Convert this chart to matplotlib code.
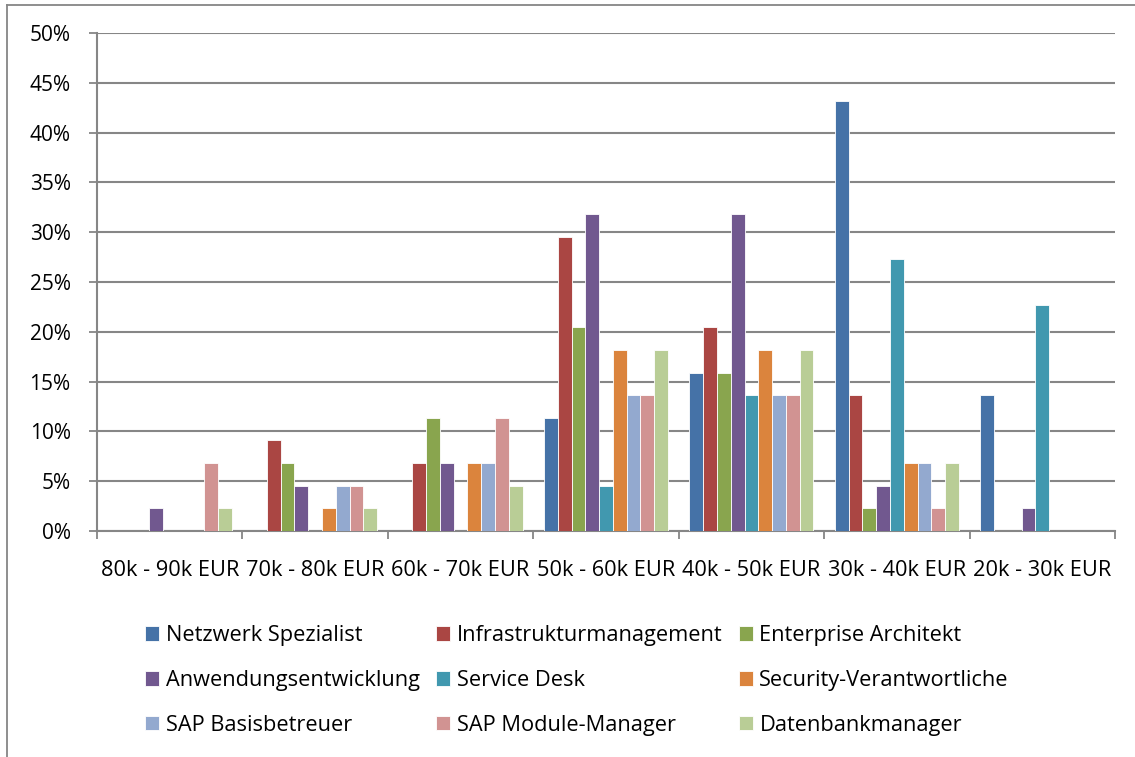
import numpy as np
import matplotlib.pyplot as plt
from matplotlib.lines import Line2D

plt.rcParams['font.family'] = ['Open Sans', 'DejaVu Sans']

categories = ['80k - 90k EUR', '70k - 80k EUR', '60k - 70k EUR', '50k - 60k EUR',
              '40k - 50k EUR', '30k - 40k EUR', '20k - 30k EUR']

# percent per salary band
netzwerk = [0, 0, 0, 11.36, 15.91, 43.18, 13.64]
infra = [0, 9.09, 6.82, 29.55, 20.45, 13.64, 0]
enterprise = [0, 6.82, 11.36, 20.45, 15.91, 2.27, 0]
anwendung = [2.27, 4.55, 6.82, 31.82, 31.82, 4.55, 2.27]
service_desk = [0, 0, 0, 4.55, 13.64, 27.27, 22.73]
security = [0, 2.27, 6.82, 18.18, 18.18, 6.82, 0]
sap_basis = [0, 4.55, 6.82, 13.64, 13.64, 6.82, 0]
sap_module = [6.82, 4.55, 11.36, 13.64, 13.64, 2.27, 0]
datenbank = [2.27, 2.27, 4.55, 18.18, 18.18, 6.82, 0]

series = [
    ('Netzwerk Spezialist', netzwerk, '#4572A7'),
    ('Infrastrukturmanagement', infra, '#AA4643'),
    ('Enterprise Architekt', enterprise, '#89A54E'),
    ('Anwendungsentwicklung', anwendung, '#71588F'),
    ('Service Desk', service_desk, '#4198AF'),
    ('Security-Verantwortliche', security, '#DB843D'),
    ('SAP Basisbetreuer', sap_basis, '#93A9CF'),
    ('SAP Module-Manager', sap_module, '#D19392'),
    ('Datenbankmanager', datenbank, '#B9CD96'),
]

fs = 15.7

fig = plt.figure(figsize=(11.35, 7.57), dpi=100)
ax = fig.add_axes([97/1135, 1-531/757, (1115-97)/1135, (531-33)/757])

x = np.arange(len(categories))
w = 0.0948
n = len(series)
handles = []
for i, (name, vals, col) in enumerate(series):
    b = ax.bar(x + (i - (n-1)/2)*w, vals, w, color=col, edgecolor='white',
               linewidth=0.6, label=name, zorder=3)
    handles.append(b)

ax.set_xlim(-0.5, len(categories)-0.5)
ax.set_ylim(0, 50)
ax.set_yticks(np.arange(0, 51, 5))
ax.set_yticklabels([f'{v}%' for v in range(0, 51, 5)], fontsize=15)
ax.yaxis.grid(True, color='#868686', linewidth=1.5, zorder=0)
ax.set_axisbelow(True)

ax.set_xticks(np.arange(-0.5, len(categories)), minor=False)
ax.set_xticklabels([])
ax.set_xticks(x, minor=True)
ax.set_xticklabels(categories, minor=True, fontsize=fs)
ax.tick_params(axis='x', which='minor', length=0, pad=21)
ax.tick_params(axis='x', which='major', length=6, width=1.3, color='#868686', direction='out')
ax.tick_params(axis='y', length=6, width=1.3, color='#868686', direction='out', pad=13)

for s in ['top', 'right']:
    ax.spines[s].set_visible(False)
for s in ['left', 'bottom']:
    ax.spines[s].set_color('#868686')
    ax.spines[s].set_linewidth(1.5)

order = [0, 3, 6, 1, 4, 7, 2, 5, 8]
fig.legend([handles[i] for i in order], [series[i][0] for i in order],
           ncol=3, loc='upper left', bbox_to_anchor=(134/1135, 1-614/757),
           frameon=False, fontsize=fs, handlelength=0.65, handleheight=0.65,
           handletextpad=0.3, columnspacing=0.75, labelspacing=1.1, borderpad=0)

fig.add_artist(Line2D([7/1135, 1], [1-5/757, 1-5/757], color='#868686', linewidth=1.3))
fig.add_artist(Line2D([7/1135, 7/1135], [0, 1-5/757], color='#868686', linewidth=1.3))

fig.savefig('out.png', dpi=100)
